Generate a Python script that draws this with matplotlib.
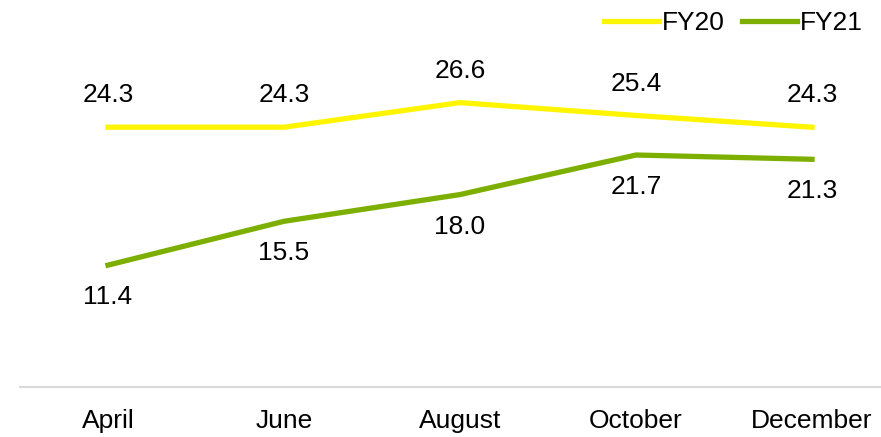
import numpy as np
import matplotlib.pyplot as plt

plt.rcParams['font.family'] = ['Liberation Sans', 'DejaVu Sans']

MONTHS = ['April', 'June', 'August', 'October', 'December']
FY20 = [24.3, 24.3, 26.6, 25.4, 24.3]
FY21 = [11.4, 15.5, 18.0, 21.7, 21.3]

YELLOW = '#FFF500'
GREEN = '#7DAF00'
FS = 19


def main():
    fig = plt.figure(figsize=(8.81, 4.37), dpi=100)
    # axes runs a little past the right edge, like the original crop
    ax = fig.add_axes([20 / 881, 50 / 437, 880 / 881, 387 / 437])
    x = np.arange(len(MONTHS))

    ax.plot(x, FY20, color=YELLOW, lw=3.8, label='FY20')
    ax.plot(x, FY21, color=GREEN, lw=3.8, label='FY21')

    for xi, v in zip(x, FY20):
        ax.annotate(f'{v:.1f}', (xi, v), xytext=(0, 23), textcoords='offset points',
                    ha='center', va='center', fontsize=FS)
    for xi, v in zip(x, FY21):
        ax.annotate(f'{v:.1f}', (xi, v), xytext=(0, -23), textcoords='offset points',
                    ha='center', va='center', fontsize=FS)

    ax.set_xlim(-0.5, 4.5)
    ax.set_ylim(0, 36.2)
    ax.set_xticks(x)
    ax.set_xticklabels(MONTHS, fontsize=FS)
    ax.tick_params(axis='x', length=0, pad=16)
    ax.set_yticks([])
    for side in ['top', 'right', 'left']:
        ax.spines[side].set_visible(False)
    ax.spines['bottom'].set_color('#D9D9D9')
    ax.spines['bottom'].set_linewidth(1.5)

    fig.legend(loc='center right', bbox_to_anchor=(863 / 881, 1 - 23 / 437), ncol=2,
               frameon=False, fontsize=FS, handlelength=2.1, handletextpad=0.1,
               columnspacing=0.65, borderpad=0, borderaxespad=0)

    fig.savefig('out.png', dpi=100)


if __name__ == '__main__':
    main()
